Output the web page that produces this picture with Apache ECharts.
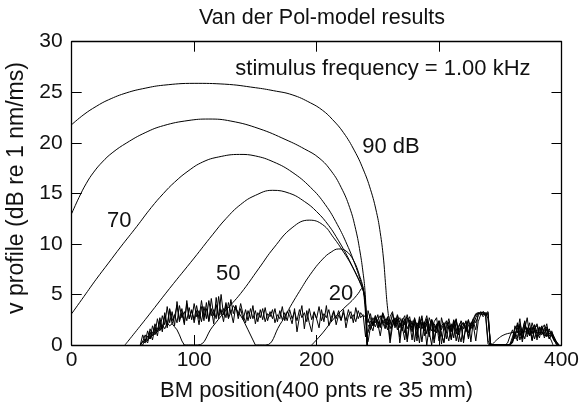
<!DOCTYPE html>
<html><head><meta charset="utf-8">
<script src="https://cdn.jsdelivr.net/npm/echarts@6/dist/echarts.min.js"></script>
<style>html,body{margin:0;padding:0;background:#fff}#c{width:582px;height:407px}</style>
</head><body><div id="c"></div>
<script>
const chartTitle = 'Van der Pol-model results';
const xName = 'BM position(400 pnts re 35 mm)';
const yName = 'v profile (dB re 1 nm/ms)';
const xRange = [0, 400, 100];
const yRange = [0, 30, 5];

// smooth response curves [position, value]
const curve90 = [[0,21.8],[10,22.8],[20,23.6],[30,24.25],[45,24.95],[60,25.4],[75,25.7],[100,25.88],[125,25.8],[150,25.45],[165,25.15],[180,24.75],[195,23.95],[205,23.2],[213,22.3],[222,21.0],[231,19.2],[238,17.4],[244,15.4],[249,13.1],[252,11.1],[254.5,8.7],[256.2,6.2],[257.5,4.2],[259,2.6]];
const curve80 = [[0,13.0],[6,14.6],[12,16.0],[18,17.1],[25,18.1],[33,19.0],[45,20.0],[60,21.0],[75,21.7],[95,22.2],[112,22.35],[130,22.15],[153,21.4],[175,20.3],[190,19.4],[202,18.5],[212,17.2],[220,15.6],[227,13.6],[232,11.4],[235.5,9.2],[238,7.1],[239.5,5.4],[240.5,3.0],[241.3,0]];
const curve70 = [[0,3.1],[10,4.8],[20,6.5],[30,8.1],[40,9.7],[53,11.7],[65,13.6],[75,15.0],[84,16.1],[95,17.2],[107,18.1],[120,18.6],[137,18.85],[150,18.7],[165,18.1],[180,17.1],[195,15.6],[207,13.9],[217,11.9],[225,9.9],[231,8.1],[235.5,6.5],[239,5.1],[240.5,2.6],[241.5,0]];
const curve60 = [[43.5,0],[60,2.5],[80,5.6],[100,8.6],[115,10.9],[126,12.5],[138,13.9],[150,14.8],[164,15.3],[178,15.0],[190,14.2],[200,13.2],[210,11.8],[218,10.3],[225,8.8],[231,7.3],[236,6.0],[239,4.9],[240.5,2.4],[241.5,0]];
const curve50 = [[91,0],[103,0],[115,1.8],[125,3.3],[138,5.1],[153,7.6],[165,9.6],[180,11.6],[194,12.35],[205,11.9],[214,10.6],[222,9.2],[229,7.8],[234,6.6],[238,5.4],[240,4.0],[241.5,0]];
const curve40 = [[150,0],[158.5,0],[170,2.0],[180,4.1],[186,5.3],[195,7.0],[205,8.5],[212,9.2],[218,9.5],[224,9.3],[230,8.4],[235,6.9],[238.5,5.3],[240.5,2.5],[241.5,0]];
const curve30 = [[196,0],[205,1.2],[214,2.6],[222,3.6],[229,4.4],[234,5.1],[237,5.6],[239,4.5],[240.5,1.5],[241,0]];
const arcTail = [[343,0],[348,0.6],[353,1.0],[359,1.2],[366,1.3],[374,1.3],[382,1.25],[388,1.0],[391,0.6],[393,0]];

// noisy traces sampled every 2 positions
const noiseA = { start: 56, step: 2, values: [
 0.0,1.0,0.3,1.4,0.6,1.9,1.1,2.6,1.5,2.9,2.0,3.8,2.2,3.3,1.9,4.3,2.5,3.6,2.2,4.1,2.6,3.4,
 2.5,3.9,2.6,4.4,2.8,3.6,2.4,4.6,2.9,4.0,2.6,5.0,3.0,4.2,2.7,4.5,3.1,3.9,2.6,3.6,
 2.5,3.5,2.4,3.6,2.6,3.4,2.3,3.5,2.5,3.7,2.4,3.3,2.6,3.6,2.3,3.4,2.5,3.2,2.4,3.5,
 2.6,3.3,2.4,3.5,2.7,3.2,2.3,3.6,2.5,3.3,2.6,3.8,2.4,3.1,2.7,3.5,2.3,3.3,2.6,3.4,
 2.5,3.2,2.4,3.5,2.6,3.0,2.3,3.4,2.7,3.0,
 0.8,3.4,2.6,2.1,2.9,1.7,2.5,3.1,2.2,1.5,2.8,3.3,1.9,2.6,0.2,2.4,2.9,1.6,2.2,0.5,
 2.7,1.8,2.4,0.3,2.1,2.9,1.4,2.5,0.6,1.9,2.3,1.1,0.2,1.8,2.6,1.5,2.2,0.4,1.7,2.4,
 1.9,2.3,0.8,2.1,2.6,3.1,3.2,3.0,3.3,3.1,0.4,0.0,0.0,0.0,0.0,0.0,0.0,0.0,0.2,0.9,
 1.5,0.6,2.2,0.9,1.4,2.3,0.8,1.6,1.1,2.0,1.3,0.7,1.8,1.2,1.6,0.9,1.3,0.6,0.3,0.0]};
const noiseB = { start: 56, step: 2, values: [
 0.0,0.0,0.6,0.2,1.3,0.5,1.8,0.9,2.4,1.3,2.9,1.7,3.5,2.1,2.8,3.9,2.3,3.2,2.0,4.4,2.6,3.5,
 2.2,3.4,2.0,3.8,2.4,4.2,2.3,3.6,2.1,4.7,2.8,3.5,2.3,4.0,2.6,3.3,2.2,3.9,2.9,4.1,
 3.0,2.2,3.4,2.6,3.9,2.1,3.2,2.7,3.6,2.3,3.1,2.8,3.5,2.2,3.0,2.6,3.8,2.4,3.3,2.9,
 2.1,3.6,1.3,2.8,3.9,1.6,3.4,2.2,1.3,3.2,2.6,1.7,3.5,2.3,3.9,1.9,2.7,3.4,2.0,3.0,
 2.4,3.5,1.7,2.9,3.3,2.2,3.7,2.6,3.2,2.8,
 2.9,2.2,3.1,1.9,2.6,2.4,1.8,3.0,2.3,2.7,0.6,2.5,1.9,3.0,2.2,1.4,2.6,0.3,2.1,1.7,
 2.3,0.9,2.8,1.6,2.2,0.0,1.9,2.5,1.3,2.1,0.4,2.7,1.7,1.2,2.3,0.5,1.9,2.6,1.0,2.0,
 2.2,1.4,2.5,0.3,2.4,3.0,3.1,3.2,3.2,2.9,0.1,0.0,0.0,0.0,0.0,0.0,0.0,0.0,0.0,0.0,
 0.4,1.9,1.2,2.6,0.7,1.8,1.4,2.2,0.5,1.7,1.9,1.0,1.6,2.0,0.8,1.4,1.1,0.5,0.0,0.0]};
const noiseC = { start: 56, step: 2, values: [0.0,0.4,0.2,0.9,0.6,1.3,1.0,1.7,1.4,2.0,1.6,2.2,1.9,2.1,1.8,1.5,1.0,0.4,0.0]};
const noiseD = { start: 56, step: 2, values: [
 0.0,0.3,1.0,0.4,1.6,0.9,2.1,1.3,2.7,1.6,3.2,2.0,3.6,2.4,3.0,2.2,3.9,2.7,3.3,2.4,
 3.7,2.5,4.1,2.8,3.4,2.3,3.8,2.6,4.4,2.9,3.5,2.6,4.8,3.0,3.6,2.7,4.2,3.2,3.9,3.5]};
const noiseDEnd = [[136,3.3],[140,2.5],[144,1.5],[148,0.5],[150,0]];
const tailE = { start: 242, step: 2, values: [
 0.3,1.8,2.7,2.2,3.0,1.9,2.5,2.1,2.8,1.6,2.4,2.0,2.9,1.7,2.6,1.2,2.3,2.8,1.5,2.1,
 0.4,2.6,1.9,2.3,1.1,2.7,2.0,0.2,1.8,2.4,1.5,2.2,0.6,1.9,1.3,2.5,1.7,0.3,2.0,1.6,
 2.4,1.2,2.2,1.9,2.7,3.2,3.1,3.0,3.1,2.6,0.2,0.0,0.0,0.0,0.0,0.0,0.0,0.0,0.0,0.5,
 1.1,0.4,2.1,1.3,0.6,1.7,1.0,2.2,1.4,0.8,1.5,1.9,0.7,1.2,1.6,0.9,0.4,0.2,0.0]};
const tailF = { start: 242, step: 2, values: [
 1.2,2.4,1.9,2.9,2.3,1.7,3.2,2.6,2.0,2.5,1.8,2.7,2.2,0.8,2.6,2.0,3.0,1.9,2.4,0.3,
 2.2,1.7,2.9,1.4,2.1,0.8,2.5,1.9,1.2,2.2,0.1,1.8,2.4,1.6,2.0,0.7,2.3,1.4,1.9,0.5,
 1.8,2.5,1.6,2.0,0.4,2.3,3.0,3.3,2.9,3.2,0.0,0.0,0.0,0.0,0.0,0.0,0.0,0.0,0.1,0.8,
 1.6,2.0,0.5,1.3,2.4,1.1,1.7,0.4,1.5,2.1,1.2,1.0,1.7,1.4,0.6,1.2,0.8,0.3,0.0]};
const tailG = { start: 242, step: 2, values: [
 2.0,1.5,2.3,1.8,2.5,2.9,2.2,1.6,2.6,2.0,3.1,1.7,2.4,2.7,1.9,2.3,0.6,2.5,2.0,2.6,
 1.5,2.1,2.6,0.9,2.4,1.8,1.4,2.3,2.7,1.0,1.9,2.2,1.3,0.4,2.1,1.8,2.5,1.2,0.3,2.2,
 1.3,2.0,1.7,2.6,2.2,2.9,3.3,3.1,3.2,3.0,0.0,0.0,0.0,0.0,0.0,0.0,0.0,0.0,0.0,0.3,
 0.9,1.7,1.3,0.6,2.0,1.5,0.9,1.8,0.6,1.4,1.7,1.3,0.9,1.8,1.1,1.4,0.7,0.2,0.0]};
const tailH = { start: 242, step: 2, values: [
 2.6,2.0,1.4,2.7,2.1,0.9,2.4,1.8,2.3,0.2,1.9,2.6,1.5,2.2,1.8,0.5,2.7,2.1,1.3,2.5,
 1.9,0.2,2.3,1.7,2.6,1.3,0.0,2.1,1.6,2.4,1.0,0.3,2.2,1.8,0.6,2.4,1.1,1.9,2.3,0.2,
 2.0,0.6,1.8,2.3,1.5,3.1,3.2,2.8,3.1,3.3,0.0,0.0,0.0,0.0,0.0,0.0,0.0,0.0,0.0,0.2,
 1.3,0.7,1.9,0.3,1.6,2.7,0.9,1.5,2.0,0.5,1.8,1.1,1.4,2.1,0.6,1.0,0.5,0.1,0.0]};

const annotations = [
  { text: 'stimulus frequency = 1.00 kHz', x: 133.6, y: 27.3 },
  { text: '90 dB', x: 237.2, y: 19.6 },
  { text: '70', x: 28.8, y: 12.3 },
  { text: '50', x: 117.9, y: 7.0 },
  { text: '20', x: 210, y: 5.1 }
];

function sampled(tr) { return tr.values.map((v, i) => [tr.start + i * tr.step, v]); }

const FONT = 'Liberation Sans, Arial, Helvetica, sans-serif';
const el = document.getElementById('c');
const chart = echarts.init(el, null, { renderer: 'canvas' });

const smoothSeries = [curve90, curve80, curve70, curve60, curve50, curve40, curve30, arcTail];
const noisySeries = [sampled(noiseA), sampled(noiseB), sampled(noiseC), sampled(noiseD).concat(noiseDEnd), sampled(tailE), sampled(tailF), sampled(tailG), sampled(tailH)];

const series = [];
smoothSeries.forEach(d => series.push({ type: 'line', data: d, showSymbol: false, symbol: 'none', smooth: 0.45, lineStyle: { color: '#000', width: 1 }, silent: true, animation: false, clip: true }));
noisySeries.forEach(d => series.push({ type: 'line', data: d, showSymbol: false, symbol: 'none', lineStyle: { color: '#000', width: 1 }, silent: true, animation: false, clip: true }));

const axisLine = { show: true, onZero: false, lineStyle: { color: '#000', width: 1.3 } };
const tick = { show: true, inside: true, length: 10, lineStyle: { color: '#000', width: 1 } };

chart.setOption({
  animation: false,
  backgroundColor: '#fff',
  title: { text: chartTitle, left: 317, top: 2, textAlign: 'center', textStyle: { fontFamily: FONT, fontSize: 21.5, fontWeight: 'normal', color: '#111' } },
  grid: { left: 71.7, right: 18.5, top: 41.7, bottom: 57.7 },
  xAxis: [
    { type: 'value', min: xRange[0], max: xRange[1], interval: xRange[2], position: 'bottom', name: xName, nameLocation: 'middle', nameGap: 35,
      nameTextStyle: { fontFamily: FONT, fontSize: 22, color: '#111' },
      axisLine, axisTick: tick, splitLine: { show: false },
      axisLabel: { margin: 5, fontFamily: FONT, fontSize: 21, color: '#111' } },
    { type: 'value', min: xRange[0], max: xRange[1], interval: xRange[2], position: 'top',
      axisLine, axisTick: tick, splitLine: { show: false }, axisLabel: { show: false } }
  ],
  yAxis: [
    { type: 'value', min: yRange[0], max: yRange[1], interval: yRange[2], position: 'left',
      axisLine, axisTick: tick, splitLine: { show: false },
      axisLabel: { margin: 9, fontFamily: FONT, fontSize: 21, color: '#111' } },
    { type: 'value', min: yRange[0], max: yRange[1], interval: yRange[2], position: 'right',
      axisLine, axisTick: tick, splitLine: { show: false }, axisLabel: { show: false } }
  ],
  series
});

const graphics = annotations.map(a => {
  const p = chart.convertToPixel({ xAxisIndex: 0, yAxisIndex: 0 }, [a.x, a.y]);
  return { type: 'text', x: p[0], y: p[1], silent: true,
    style: { text: a.text, fontFamily: FONT, fontSize: 22, fill: '#111', textAlign: 'left', textVerticalAlign: 'middle' } };
});
graphics.push({ type: 'text', x: 17, y: 188, rotation: Math.PI / 2, silent: true,
  style: { text: yName, fontFamily: FONT, fontSize: 23, fill: '#111', textAlign: 'center', textVerticalAlign: 'middle' } });
chart.setOption({ graphic: graphics });
</script>
</body></html>
